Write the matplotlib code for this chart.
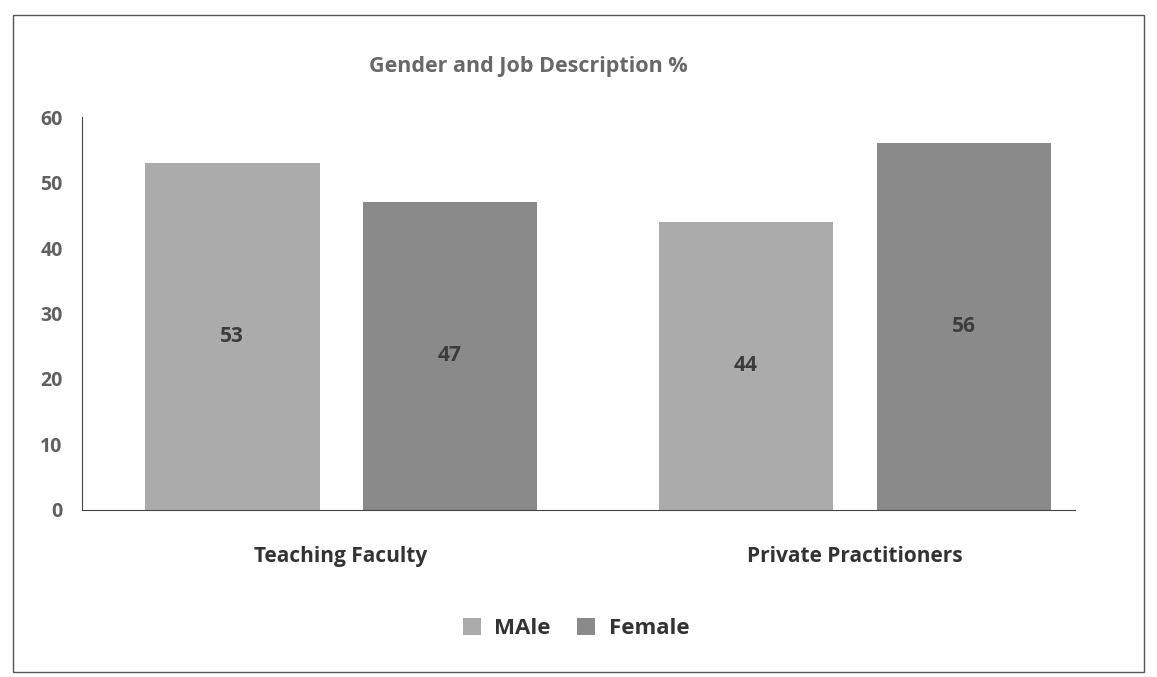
import matplotlib
matplotlib.use("Agg")
import matplotlib.pyplot as plt
from matplotlib.patches import Rectangle
import numpy as np

categories = ["Teaching Faculty", "Private Practitioners"]
series_names = ["MAle", "Female"]
male = [53, 44]
female = [47, 56]
y_ticks = [0, 10, 20, 30, 40, 50, 60]

colors = ["#ababab", "#8a8a8a"]
plt.rcParams['font.family'] = ['Open Sans', 'DejaVu Sans']

fig = plt.figure(figsize=(11.57, 6.77), dpi=100)
fig.patch.set_facecolor("white")
ax = fig.add_axes([0.071, 0.247, 0.858, 0.58])

x = np.arange(len(categories))
w = 0.34
off = 0.212
b1 = ax.bar(x - off, male, w, color=colors[0], label=series_names[0])
b2 = ax.bar(x + off, female, w, color=colors[1], label=series_names[1])

for bars, vals in ((b1, male), (b2, female)):
    for r, v in zip(bars, vals):
        ax.text(r.get_x() + r.get_width() / 2, v / 2, f"{v}", ha="center", va="center",
                fontsize=15, fontweight="bold", color="#3c3c3c")

ax.set_ylim(0, 60)
ax.set_xlim(-0.504, 1.428)
ax.set_yticks(y_ticks)
ax.set_yticklabels([str(t) for t in y_ticks], fontsize=14, color="#606060", fontweight="bold")
ax.tick_params(axis="y", length=0, pad=14)
ax.set_xticks([])
for s in ["top", "right"]:
    ax.spines[s].set_visible(False)
ax.spines["left"].set_color("#444444")
ax.spines["bottom"].set_color("#444444")
ax.spines["left"].set_linewidth(0.8)
ax.spines["bottom"].set_linewidth(0.8)

# category labels
for xi, c in zip(x, categories):
    ax.text(xi, -0.12, c, transform=ax.get_xaxis_transform(), ha="center", va="center",
            fontsize=15, fontweight="bold", color="#333333")

fig.text(0.457, 0.902, "Gender and Job Description %", ha="center", va="center",
         fontsize=15.5, fontweight="bold", color="#686868")

leg = fig.legend(handles=[b1, b2], labels=series_names, loc="center",
                 bbox_to_anchor=(0.498, 0.072), ncol=2, frameon=False,
                 prop={"size": 16, "weight": "bold"}, handlelength=0.8, handleheight=0.8,
                 columnspacing=1.2, handletextpad=0.6)
for t in leg.get_texts():
    t.set_color("#333333")

fig.patches.append(Rectangle((0.011, 0.008), 0.978, 0.97, transform=fig.transFigure,
                             fill=False, edgecolor="#555555", linewidth=1.0))

fig.savefig("out.png", dpi=100)
